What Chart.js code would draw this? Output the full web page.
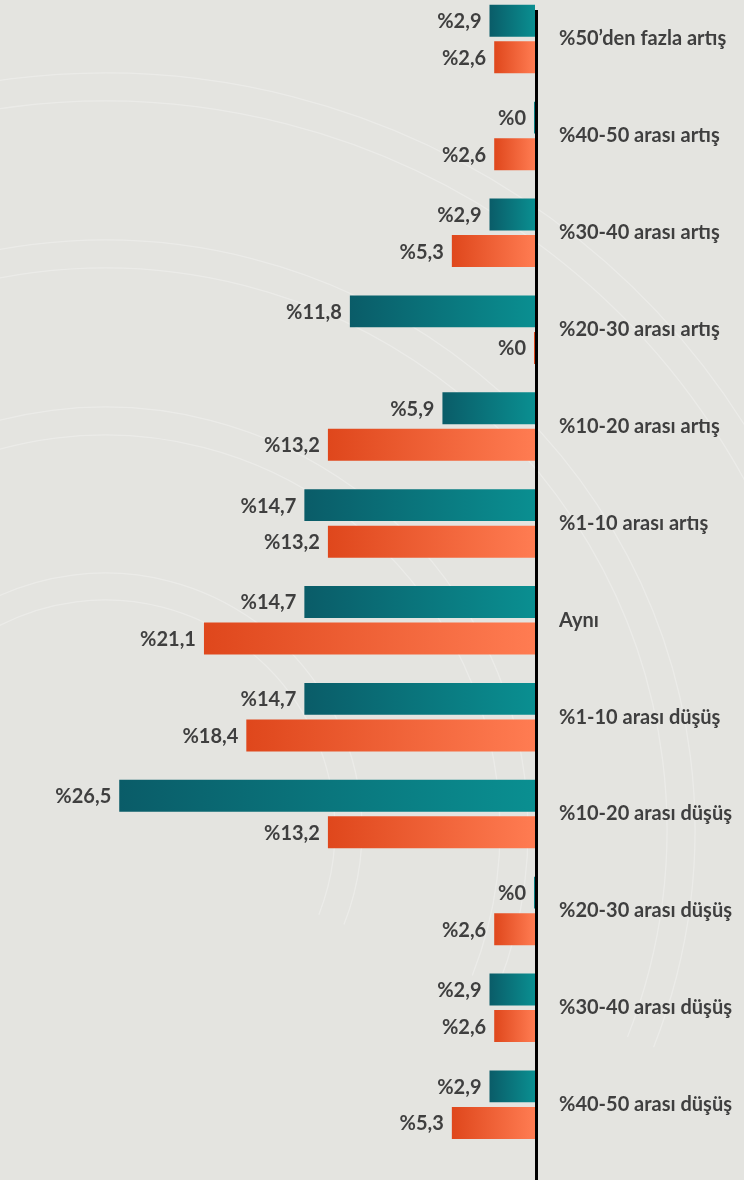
<!DOCTYPE html>
<html lang="tr">
<head>
<meta charset="utf-8">
<script src="https://cdn.jsdelivr.net/npm/chart.js@4.4.1/dist/chart.umd.min.js"></script>
<style>
  html, body { margin: 0; padding: 0; background: #e4e4e0; width: 744px; height: 1180px; overflow: hidden; }
  #wrap { position: absolute; left: 0; top: -20px; width: 744px; height: 1200px; }
</style>
</head>
<body>
<div id="wrap"><canvas id="c"></canvas></div>
<script>
const categories = [
  "%50’den fazla artış",
  "%40-50 arası artış",
  "%30-40 arası artış",
  "%20-30 arası artış",
  "%10-20 arası artış",
  "%1-10 arası artış",
  "Aynı",
  "%1-10 arası düşüş",
  "%10-20 arası düşüş",
  "%20-30 arası düşüş",
  "%30-40 arası düşüş",
  "%40-50 arası düşüş"
];
const tealValues   = [2.9, 0, 2.9, 11.8, 5.9, 14.7, 14.7, 14.7, 26.5, 0, 2.9, 2.9];
const orangeValues = [2.6, 2.6, 5.3, 0, 13.2, 13.2, 21.1, 18.4, 13.2, 2.6, 2.6, 5.3];

const TEXT = '#3f3f3f';
const FONT = 'Lato, "Open Sans", sans-serif';

function gradient(c0, c1, cz) {
  return (ctx) => {
    const chart = ctx.chart;
    if (!chart.chartArea || ctx.type !== 'data' || !chart.scales.x) return c1;
    const xs = chart.scales.x;
    const p0 = xs.getPixelForValue(ctx.raw);
    const p1 = xs.getPixelForValue(0);
    if (Math.abs(p1 - p0) < 3) return cz;
    const g = chart.ctx.createLinearGradient(p0, 0, p1, 0);
    g.addColorStop(0, c0);
    g.addColorStop(1, c1);
    return g;
  };
}

const bgPlugin = {
  id: 'bg',
  beforeDraw(chart) {
    const c = chart.ctx;
    c.save();
    c.fillStyle = '#e4e4e0';
    c.fillRect(0, 0, chart.width, chart.height);
    // faint decorative concentric arcs
    c.strokeStyle = 'rgba(255,255,255,0.28)';
    c.lineWidth = 1.3;
    const cx = 105, cy = 830 + 20;
    [757, 729, 590, 562, 423, 395, 257, 230].forEach(r => {
      c.beginPath();
      c.arc(cx, cy, r, Math.PI * 1.08, Math.PI * 2.12);
      c.stroke();
    });
    c.restore();
  }
};

const axisPlugin = {
  id: 'axisLine',
  afterDatasetsDraw(chart) {
    const c = chart.ctx;
    const x = chart.scales.x.getPixelForValue(0) + 1.5;
    c.save();
    c.strokeStyle = '#000';
    c.lineWidth = 3;
    c.beginPath();
    c.moveTo(x, chart.chartArea.top + 19.5);
    c.lineTo(x, chart.height);
    c.stroke();
    c.restore();
  }
};

const labelPlugin = {
  id: 'valueLabels',
  afterDatasetsDraw(chart) {
    const c = chart.ctx;
    c.save();
    c.font = 'bold 20px ' + FONT;
    c.fillStyle = TEXT;
    c.textAlign = 'right';
    c.textBaseline = 'middle';
    chart.data.datasets.forEach((ds, di) => {
      const meta = chart.getDatasetMeta(di);
      meta.data.forEach((el, i) => {
        const v = ds.data[i];
        const txt = '%' + String(v).replace('.', ',');
        const left = Math.min(el.x, el.base);
        c.fillText(txt, left - 8, el.y + 1);
      });
    });
    c.restore();
  }
};

function build() {
  new Chart(document.getElementById('c'), {
    type: 'bar',
    data: {
      labels: categories,
      datasets: [
        {
          data: tealValues,
          backgroundColor: gradient('#0a5c68', '#0a8f91', '#0b7e82'),
          borderWidth: 0,
          minBarLength: 2,
          categoryPercentage: 0.755,
          barPercentage: 0.874
        },
        {
          data: orangeValues,
          backgroundColor: gradient('#df471c', '#ff7c52', '#dc4a1e'),
          borderWidth: 0,
          minBarLength: 2,
          categoryPercentage: 0.755,
          barPercentage: 0.874
        }
      ]
    },
    options: {
      indexAxis: 'y',
      responsive: true,
      maintainAspectRatio: false,
      animation: false,
      events: [],
      layout: { padding: { top: 10.6, bottom: 26.9, left: 0, right: 0 } },
      plugins: { legend: { display: false }, tooltip: { enabled: false } },
      scales: {
        x: {
          display: false,
          reverse: true,
          min: 0,
          max: 34.1
        },
        y: {
          position: 'right',
          grid: { display: false, drawTicks: true, tickLength: 24 },
          border: { display: false },
          ticks: {
            padding: 0,
            color: TEXT,
            font: { family: FONT, size: 20, weight: 'bold', lineHeight: 1 }
          },
          afterFit(scale) { scale.width = 209; }
        }
      }
    },
    plugins: [bgPlugin, axisPlugin, labelPlugin]
  });
}

if (document.fonts && document.fonts.load) {
  document.fonts.load('bold 20px Lato').then(build, build);
} else {
  build();
}
</script>
</body>
</html>
